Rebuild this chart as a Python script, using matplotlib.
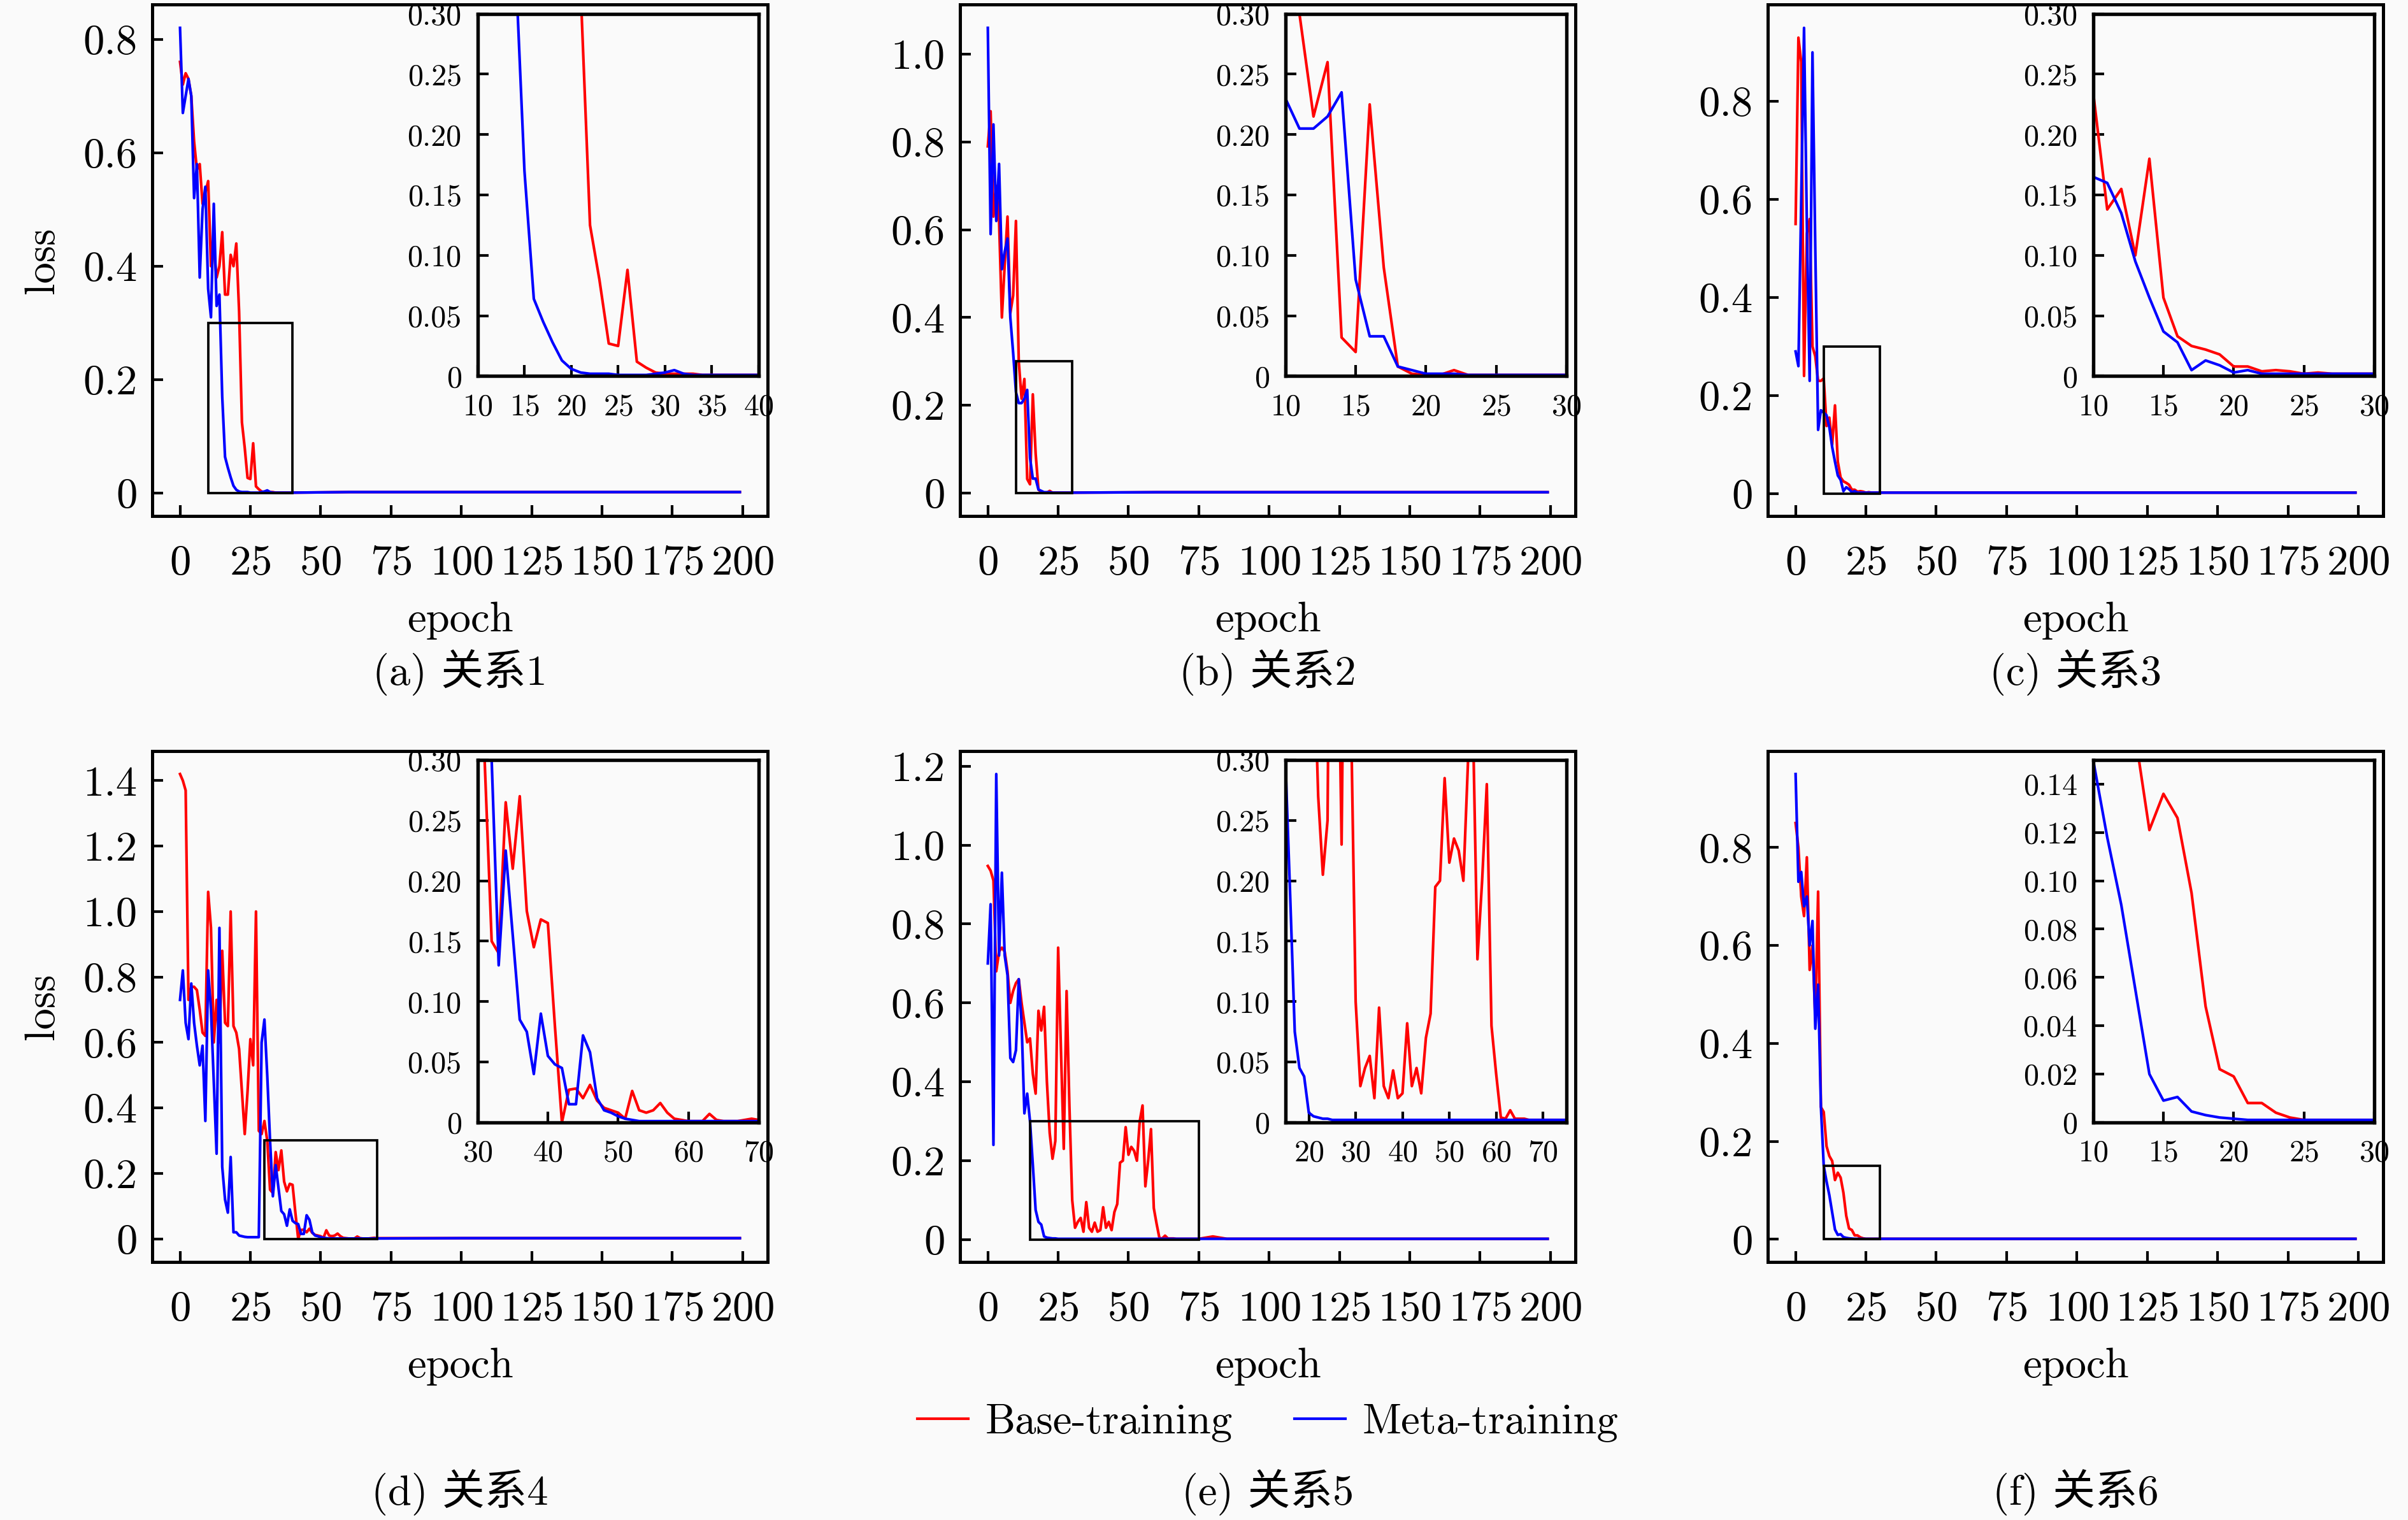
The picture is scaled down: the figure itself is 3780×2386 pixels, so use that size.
import matplotlib
matplotlib.use('Agg')
import matplotlib.pyplot as plt
from matplotlib.patches import Rectangle
from matplotlib.ticker import MultipleLocator, FuncFormatter

plt.rcParams['font.family'] = ['cmr10', 'Noto Sans CJK SC']
plt.rcParams['mathtext.fontset'] = 'cm'
plt.rcParams['axes.unicode_minus'] = False
plt.rcParams['axes.formatter.use_mathtext'] = True

# ---- data (loss per epoch) ----
tail_ep = [60, 100, 150, 199]

ep_a = list(range(41)) + tail_ep
red_a = [0.76, 0.72, 0.74, 0.73, 0.70, 0.62, 0.57, 0.58, 0.51, 0.53,
         0.55, 0.40, 0.43, 0.38, 0.40, 0.46, 0.35, 0.35, 0.42, 0.40,
         0.44, 0.32, 0.125, 0.08, 0.027, 0.025, 0.088, 0.012, 0.007, 0.003,
         0.002, 0.002, 0.002, 0.002, 0.001, 0.001, 0.001, 0.001, 0.001, 0.001,
         0.001, 0.002, 0.002, 0.002, 0.002]
blue_a = [0.82, 0.67, 0.70, 0.73, 0.70, 0.52, 0.58, 0.38, 0.50, 0.54,
          0.36, 0.31, 0.51, 0.33, 0.35, 0.17, 0.064, 0.045, 0.028, 0.013,
          0.006, 0.003, 0.002, 0.002, 0.002, 0.001, 0.001, 0.001, 0.001, 0.002,
          0.003, 0.005, 0.002, 0.001, 0.001, 0.001, 0.001, 0.001, 0.001, 0.001,
          0.001, 0.002, 0.002, 0.002, 0.002]

ep_b = list(range(31)) + tail_ep
red_b = [0.79, 0.87, 0.63, 0.70, 0.62, 0.40, 0.52, 0.63, 0.41, 0.45,
         0.62, 0.30, 0.215, 0.26, 0.032, 0.02, 0.225, 0.09, 0.008, 0.002,
         0.001, 0.001, 0.005, 0.001, 0.001, 0.001, 0.001, 0.001, 0.001, 0.001,
         0.001, 0.002, 0.002, 0.002, 0.002]
blue_b = [1.06, 0.59, 0.84, 0.62, 0.75, 0.51, 0.55, 0.58, 0.40, 0.32,
          0.23, 0.205, 0.205, 0.215, 0.235, 0.08, 0.033, 0.033, 0.008, 0.005,
          0.002, 0.002, 0.002, 0.001, 0.001, 0.001, 0.001, 0.001, 0.001, 0.001,
          0.001, 0.002, 0.002, 0.002, 0.002]

ep_c = list(range(31)) + tail_ep
red_c = [0.55, 0.93, 0.88, 0.24, 0.53, 0.56, 0.30, 0.28, 0.23, 0.23,
         0.235, 0.138, 0.155, 0.10, 0.18, 0.065, 0.033, 0.025, 0.022, 0.018,
         0.008, 0.008, 0.004, 0.005, 0.004, 0.002, 0.003, 0.002, 0.002, 0.002,
         0.002, 0.002, 0.002, 0.002, 0.002]
blue_c = [0.29, 0.26, 0.60, 0.95, 0.55, 0.23, 0.90, 0.50, 0.13, 0.17,
          0.165, 0.16, 0.135, 0.095, 0.065, 0.037, 0.028, 0.005, 0.013, 0.009,
          0.003, 0.005, 0.002, 0.002, 0.002, 0.002, 0.002, 0.002, 0.002, 0.002,
          0.002, 0.002, 0.002, 0.002, 0.002]

ep_d = list(range(71)) + [100, 150, 199]
red_d = [1.42, 1.40, 1.37, 0.73, 0.77, 0.77, 0.76, 0.70, 0.63, 0.62,
         1.06, 0.95, 0.60, 0.73, 0.60, 0.88, 0.66, 0.65, 1.00, 0.65,
         0.63, 0.58, 0.45, 0.32, 0.45, 0.61, 0.53, 1.00, 0.33, 0.32,
         0.36, 0.30, 0.15, 0.14, 0.265, 0.21, 0.27, 0.175, 0.145, 0.168,
         0.165, 0.08, 0.0, 0.027, 0.028, 0.02, 0.031, 0.018, 0.012, 0.01,
         0.008, 0.003, 0.026, 0.01, 0.008, 0.01, 0.016, 0.008, 0.003, 0.002,
         0.001, 0.001, 0.001, 0.007, 0.002, 0.001, 0.001, 0.001, 0.002, 0.003,
         0.002, 0.002, 0.002, 0.002]
blue_d = [0.73, 0.82, 0.66, 0.61, 0.78, 0.66, 0.59, 0.53, 0.59, 0.36,
          0.82, 0.70, 0.48, 0.26, 0.95, 0.22, 0.12, 0.08, 0.25, 0.02,
          0.02, 0.01, 0.008, 0.006, 0.005, 0.005, 0.005, 0.005, 0.005, 0.60,
          0.67, 0.50, 0.30, 0.13, 0.225, 0.155, 0.085, 0.075, 0.04, 0.09,
          0.055, 0.048, 0.045, 0.015, 0.015, 0.072, 0.058, 0.02, 0.01, 0.008,
          0.005, 0.003, 0.002, 0.001, 0.001, 0.001, 0.001, 0.001, 0.001, 0.001,
          0.001, 0.001, 0.001, 0.001, 0.001, 0.001, 0.001, 0.001, 0.001, 0.001,
          0.001, 0.002, 0.002, 0.002]

ep_e = list(range(76)) + [80, 85, 100, 150, 199]
red_e = [0.947, 0.935, 0.91, 0.68, 0.73, 0.74, 0.73, 0.68, 0.60, 0.63,
         0.65, 0.66, 0.60, 0.55, 0.50, 0.51, 0.42, 0.37, 0.58, 0.53,
         0.59, 0.40, 0.27, 0.205, 0.25, 0.74, 0.48, 0.23, 0.63, 0.34,
         0.10, 0.03, 0.045, 0.055, 0.02, 0.095, 0.03, 0.02, 0.043, 0.02,
         0.024, 0.082, 0.03, 0.045, 0.024, 0.07, 0.09, 0.195, 0.20, 0.285,
         0.215, 0.235, 0.225, 0.20, 0.30, 0.34, 0.135, 0.20, 0.28, 0.08,
         0.04, 0.004, 0.003, 0.01, 0.003, 0.003, 0.003, 0.002, 0.002, 0.002,
         0.002, 0.002, 0.002, 0.002, 0.002, 0.002,
         0.008, 0.002, 0.002, 0.002, 0.002]
blue_e = [0.70, 0.85, 0.24, 1.18, 0.72, 0.93, 0.72, 0.67, 0.46, 0.45,
          0.48, 0.66, 0.55, 0.32, 0.37, 0.30, 0.19, 0.075, 0.045, 0.038,
          0.008, 0.005, 0.004, 0.003, 0.003, 0.002, 0.002, 0.002, 0.002, 0.002,
          0.002, 0.002, 0.002, 0.002, 0.002, 0.002, 0.002, 0.002, 0.002, 0.002,
          0.002, 0.002, 0.002, 0.002, 0.002, 0.002, 0.002, 0.002, 0.002, 0.002,
          0.002, 0.002, 0.002, 0.002, 0.002, 0.002, 0.002, 0.002, 0.002, 0.002,
          0.002, 0.002, 0.002, 0.002, 0.002, 0.002, 0.002, 0.002, 0.002, 0.002,
          0.002, 0.002, 0.002, 0.002, 0.002, 0.002,
          0.002, 0.002, 0.002, 0.002, 0.002]

ep_f = list(range(31)) + tail_ep
red_f = [0.85, 0.80, 0.70, 0.66, 0.78, 0.55, 0.60, 0.45, 0.71, 0.27,
         0.26, 0.19, 0.17, 0.16, 0.121, 0.136, 0.126, 0.095, 0.048, 0.022,
         0.019, 0.008, 0.008, 0.004, 0.002, 0.001, 0.001, 0.001, 0.001, 0.001,
         0.001, 0.001, 0.001, 0.001, 0.001]
blue_f = [0.95, 0.73, 0.75, 0.68, 0.70, 0.60, 0.65, 0.43, 0.52, 0.27,
          0.15, 0.118, 0.09, 0.055, 0.02, 0.009, 0.0105, 0.0045, 0.003, 0.002,
          0.0015, 0.001, 0.001, 0.001, 0.001, 0.001, 0.001, 0.001, 0.001, 0.001,
          0.001, 0.001, 0.001, 0.001, 0.001]

captions = ['(a) 关系1', '(b) 关系2', '(c) 关系3', '(d) 关系4', '(e) 关系5', '(f) 关系6']

# zoom window per panel: x0, x1, y1, x tick step, y tick step
zooms = [(10, 40, 0.30, 5, 0.05), (10, 30, 0.30, 5, 0.05), (10, 30, 0.30, 5, 0.05),
         (30, 70, 0.30, 10, 0.05), (15, 75, 0.30, 10, 0.05), (10, 30, 0.15, 5, 0.02)]

panels = [(ep_a, red_a, blue_a), (ep_b, red_b, blue_b), (ep_c, red_c, blue_c),
          (ep_d, red_d, blue_d), (ep_e, red_e, blue_e), (ep_f, red_f, blue_f)]

# ---- layout ----
W, H = 1568.0, 990.0
bg = '#fafafa'
fig = plt.figure(figsize=(12.6, 2386 / 300), dpi=300, facecolor=bg)
FS = 16
FS_IN = 11.5
LW = 1.0

lefts = [99, 625, 1151]
tops = [3, 489]
ax_w, ax_h = 401, 333
in_dx, in_dy, in_w, in_h = 212, 6, 183, 236


def fmt_main(v, p):
    return '0' if abs(v) < 1e-9 else '%.1f' % v


def fmt_in(v, p):
    return '0' if abs(v) < 1e-9 else '%.2f' % v


def style(ax, pad_x, pad_y, lw):
    for s in ax.spines.values():
        s.set_linewidth(lw)
    ax.tick_params(direction='in', top=False, right=False, length=4, width=1.0)
    ax.tick_params(axis='x', pad=pad_x)
    ax.tick_params(axis='y', pad=pad_y)
    ax.set_facecolor(bg)


lines = []
for i, (ep, red, blue) in enumerate(panels):
    r, c = divmod(i, 3)
    L, T = lefts[c], tops[r]
    ax = fig.add_axes([L / W, 1 - (T + ax_h) / H, ax_w / W, ax_h / H])
    l1, = ax.plot(ep, red, color='red', lw=LW, label='Base-training')
    l2, = ax.plot(ep, blue, color='blue', lw=LW, label='Meta-training')
    lines = [l1, l2]
    ax.set_xticks([0, 25, 50, 75, 100, 125, 150, 175, 200])
    ax.yaxis.set_major_locator(MultipleLocator(0.2))
    ax.yaxis.set_major_formatter(FuncFormatter(fmt_main))
    ax.tick_params(labelsize=FS)
    style(ax, 11, 5.5, 1.2)
    ax.set_xlabel('epoch', fontsize=FS, labelpad=7)
    if c == 0:
        ax.set_ylabel('loss', fontsize=FS, labelpad=8)

    x0, x1, y1, sx, sy = zooms[i]
    ax.add_patch(Rectangle((x0, 0), x1 - x0, y1, fill=False, edgecolor='black', lw=0.9, zorder=5))

    ins = fig.add_axes([(L + in_dx) / W, 1 - (T + in_dy + in_h) / H, in_w / W, in_h / H])
    ins.plot(ep, red, color='red', lw=LW)
    ins.plot(ep, blue, color='blue', lw=LW)
    ins.set_xlim(x0, x1)
    ins.set_ylim(0, y1)
    ins.xaxis.set_major_locator(MultipleLocator(sx))
    ins.yaxis.set_major_locator(MultipleLocator(sy))
    ins.yaxis.set_major_formatter(FuncFormatter(fmt_in))
    ins.tick_params(labelsize=FS_IN)
    style(ins, 6.5, 6, 1.3)

    fig.text((L + ax_w / 2) / W, 1 - (438 if r == 0 else 972) / H, captions[i],
             ha='center', va='center', fontsize=FS)

fig.legend(lines, ['Base-training', 'Meta-training'], loc='center',
           bbox_to_anchor=(825.5 / W, 1 - 927 / H), ncol=2, frameon=False,
           fontsize=FS, handlelength=1.2, handletextpad=0.4, columnspacing=1.45)

fig.savefig('out.png', dpi=300, facecolor=bg)
